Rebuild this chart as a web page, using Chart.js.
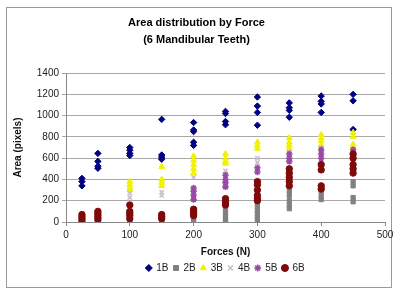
<!DOCTYPE html>
<html>
<head>
<meta charset="utf-8">
<script src="https://cdn.jsdelivr.net/npm/chart.js@4/dist/chart.umd.min.js"></script>
<style>
html,body{margin:0;padding:0;background:#fff;}
#wrap{width:397px;height:292px;position:relative;}
</style>
</head>
<body>
<div id="wrap"><canvas id="c" width="397" height="292"></canvas></div>
<script>
const forces = [25, 50, 100, 150, 200, 250, 300, 350, 400, 450];
const seriesNames = ['1B', '2B', '3B', '4B', '5B', '6B'];
const s1B = [[410,380,340],[645,570,525,505],[700,675,645,625],[965,630,610,590],[935,865,850,750,720],[1040,1020,945,915],[1175,1090,1030,910],[1120,1075,1050,985],[1185,1135,1110,1030],[1200,1140,870]];
const s2B = [[20,5],[20,5],[30,10],[15,0],[50,30,10],[120,90,60,30,10],[170,140,110,80,50,20],[290,250,200,160,125],[280,240,210],[380,340,230,190]];
const s3B = [[],[],[380,350,320,300],[520,400,370,340],[620,580,540,500,460],[640,600,570,550],[750,720,690],[790,750,720,690],[820,790,760,720],[840,800,730,700]];
const s4B = [[],[],[270,230],[280,250],[420],[480],[600,560],[660],[700],[660]];
const s5B = [[],[],[],[],[320,290,250,210],[440,400,370,330],[510,470],[640,600,570],[680,640,600],[680,630]];
const s6B = [[70,50,30,10],[100,80,60,40,20],[160,100,80,60,30],[70,50,30],[120,100,80,60],[220,190,160],[380,350,300,250,220,200],[500,460,420,380,340],[540,490,340,310],[640,600,540,500,460]];
const xTicks = [0, 100, 200, 300, 400, 500];
const yTicks = [0, 200, 400, 600, 800, 1000, 1200, 1400];

const allSeries = [s1B, s2B, s3B, s4B, s5B, s6B];
const colors = ['#000080', '#808080', '#f2f200', '#cdbdcd', '#9a4aa6', '#7f0a0a'];
const styles = ['rectRot', 'rect', 'triangle', 'crossRot', 'star', 'circle'];
const radii = [3.2, 3, 3.4, 3, 3.2, 3.2];

function toPoints(s) {
  const pts = [];
  s.forEach((vals, i) => vals.forEach(v => pts.push({x: forces[i], y: v})));
  return pts;
}

const datasets = allSeries.map((s, i) => ({
  label: seriesNames[i],
  data: toPoints(s),
  pointStyle: styles[i],
  pointRadius: radii[i],
  pointHoverRadius: radii[i],
  backgroundColor: colors[i],
  borderColor: colors[i],
  pointBorderWidth: (styles[i] === 'crossRot' || styles[i] === 'star') ? 1.6 : 1,
  borderWidth: (styles[i] === 'crossRot' || styles[i] === 'star') ? 1.6 : 1,
  showLine: false,
  order: 6 - i
}));

const FONT = "'Liberation Sans', Arial, sans-serif";

const frame = {
  id: 'frame',
  beforeDraw(chart) {
    const ctx = chart.ctx;
    ctx.save();
    ctx.fillStyle = '#fff';
    ctx.fillRect(0, 0, chart.width, chart.height);
    ctx.strokeStyle = '#9a9a9a';
    ctx.lineWidth = 1;
    ctx.strokeRect(6.5, 7.5, 385, 280);
    ctx.restore();
  }
};

new Chart(document.getElementById('c'), {
  type: 'scatter',
  data: { datasets },
  plugins: [frame],
  options: {
    responsive: false,
    animation: false,
    devicePixelRatio: 1,
    layout: { padding: { left: 8, right: 12, top: 8, bottom: 9 } },
    plugins: {
      tooltip: { enabled: false },
      title: {
        display: true,
        text: ['Area distribution by Force', '(6 Mandibular Teeth)'],
        color: '#000',
        font: { family: FONT, size: 11, weight: 'bold', lineHeight: 1.55 },
        padding: { top: 6, bottom: 25 }
      },
      legend: {
        position: 'bottom',
        fullSize: false,
        labels: {
          usePointStyle: true,
          boxWidth: 5,
          boxHeight: 5,
          padding: 5,
          color: '#222',
          font: { family: FONT, size: 10 },
          sort: (a, b) => a.datasetIndex - b.datasetIndex
        }
      }
    },
    scales: {
      x: {
        type: 'linear',
        min: 0, max: 500,
        afterBuildTicks: (s) => { s.ticks = xTicks.map(v => ({value: v})); },
        grid: { drawOnChartArea: false, drawTicks: true, tickLength: 4, color: '#888' },
        border: { display: true, color: '#888' },
        ticks: { padding: 3, color: '#222', font: { family: FONT, size: 10 }, callback: (v) => String(v) },
        title: { display: true, text: 'Forces (N)', color: '#111', font: { family: FONT, size: 10, weight: 'bold' }, padding: { top: 2, bottom: 0 } }
      },
      y: {
        type: 'linear',
        min: 0, max: 1400,
        afterBuildTicks: (s) => { s.ticks = yTicks.map(v => ({value: v})); },
        afterFit: (s) => { s.width = 58; },
        grid: { color: '#a8a8a8', drawTicks: true, tickLength: 4 },
        border: { display: true, color: '#888' },
        ticks: { padding: 3, color: '#222', font: { family: FONT, size: 10 }, callback: (v) => String(v) },
        title: { display: true, text: 'Area (pixels)', color: '#111', font: { family: FONT, size: 10, weight: 'bold' }, padding: { top: 4, bottom: 0 } }
      }
    }
  }
});
</script>
</body>
</html>
